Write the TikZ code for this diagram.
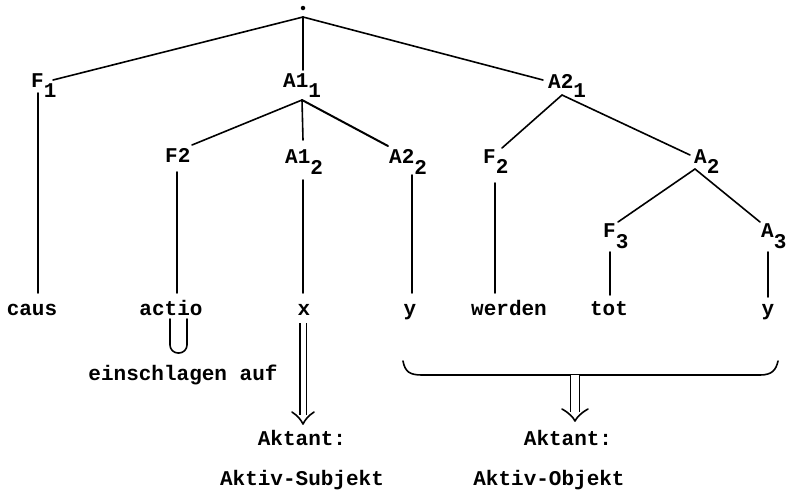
\documentclass[tikz,border=0pt]{standalone}
\usepackage{fontspec}
\newfontfamily\tw{Liberation Mono}
\newcommand\lowsub[2][10pt]{\raisebox{-#1}{#2}}
\tikzset{
  tfont/.style={font=\tw\bfseries\fontsize{21}{25}\selectfont},
  lab/.style={tfont, inner sep=0pt, anchor=base west},
  leaf/.style={tfont, inner sep=0pt, anchor=base},
  edge/.style={line width=1.6pt, line cap=round},
  shaft/.style={double, line width=1.5pt},
  vhead/.style={line width=1.6pt, line cap=round, line join=round},
}
\begin{document}
\begin{tikzpicture}[x=1pt,y=-1pt]
\useasboundingbox (0,0) rectangle (792,493);
% root
\node[circle, fill, inner sep=0pt, minimum size=4.5pt] (dot) at (303,8) {};
\coordinate (r) at (303,17);
% level 1 labels
\node[lab] (F1) at (31,87) {F\lowsub{1}};
\node[lab] (A11) at (283,87) {A1\lowsub{1}};
\node[lab] (A21) at (548,88) {A2\lowsub[9pt]{1}};
% level 2 labels
\node[lab] (F2a) at (165,162) {F2};
\node[lab] (A12) at (285,163) {A1\lowsub[11pt]{2}};
\node[lab] (A22) at (389,163) {A2\lowsub[11pt]{2}};
\node[lab] (F2b) at (483,163) {F\lowsub{2}};
\node[lab] (A2) at (694,163) {A\lowsub{2}};
% level 3 labels
\node[lab] (F3) at (603,237) {F\lowsub[11pt]{3}};
\node[lab] (A3) at (761,237) {A\lowsub[11pt]{3}};
% leaves
\node[leaf] (caus) at (32,315) {caus};
\node[leaf] (actio) at (171,315) {actio};
\node[leaf] (x) at (304,315) {x};
\node[leaf] (y1) at (410,315) {y};
\node[leaf] (werden) at (509,315) {werden};
\node[leaf] (tot) at (609,315) {tot};
\node[leaf] (y2) at (768,315) {y};
\node[leaf] (einsch) at (183,380) {einschlagen auf};
\node[leaf] (akt1) at (302,445) {Aktant:};
\node[leaf] (subj) at (302,485) {Aktiv-Subjekt};
\node[leaf] (akt2) at (568,445) {Aktant:};
\node[leaf] (obj) at (549,485) {Aktiv-Objekt};
% connector end points
\coordinate (tF1) at (53,80);
\coordinate (tA11) at (303,70);
\coordinate (tA21) at (543,80);
\coordinate (j1) at (302,100);
\coordinate (tF2a) at (192,145);
\coordinate (tA12) at (303,140);
\coordinate (tA22) at (388,146);
\coordinate (j2) at (562,95);
\coordinate (tF2b) at (502,148);
\coordinate (tA2) at (690,155);
\coordinate (j3) at (695,169);
\coordinate (tF3) at (618,222);
\coordinate (tA3) at (760,222);
% vertical ends
\coordinate (bF1) at (38,93);   \coordinate (lcaus) at (38,293);
\coordinate (bF2a) at (177,172); \coordinate (lactio) at (177,293);
\coordinate (bA12) at (303,180); \coordinate (lx) at (303,293);
\coordinate (bA22) at (412,175); \coordinate (ly1) at (412,293);
\coordinate (bF2b) at (495,183); \coordinate (lwerden) at (495,293);
\coordinate (bF3) at (610,252); \coordinate (ltot) at (610,295);
\coordinate (bA3) at (768,252); \coordinate (ly2) at (768,297);
% tree edges
\draw[edge] (r) -- (tF1);
\draw[edge] (r) -- (tA11);
\draw[edge] (r) -- (tA21);
\draw[edge] (j1) -- (tF2a);
\draw[edge] (j1) -- (tA12);
\draw[edge, line width=2pt] (j1) -- (tA22);
\draw[edge] (j2) -- (tF2b);
\draw[edge] (j2) -- (tA2);
\draw[edge] (j3) -- (tF3);
\draw[edge] (j3) -- (tA3);
% verticals
\draw[edge] (bF1) -- (lcaus);
\draw[edge] (bF2a) -- (lactio);
\draw[edge] (bA12) -- (lx);
\draw[edge] (bA22) -- (ly1);
\draw[edge] (bF2b) -- (lwerden);
\draw[edge] (bF3) -- (ltot);
\draw[edge] (bA3) -- (ly2);
% U under actio
\draw[edge, rounded corners=8pt] (170,319) -- (170,353) -- (187,353) -- (187,319);
% brace
\coordinate (bl) at (403,361);
\coordinate (br) at (778,361);
\coordinate (bm) at (575,375);
\draw[edge] (bl) .. controls (405,372) and (410,375) .. (422,375) -- (760,375) .. controls (772,375) and (776,370) .. (br);
% double arrow under x
\coordinate (xa) at (303,323);
\coordinate (xs) at (303,415);
\coordinate (xt) at (303,424);
\draw[shaft, double distance=5pt] (xa) -- (xs);
\draw[vhead] ([xshift=-11pt,yshift=12pt]xt) .. controls ([xshift=-5pt,yshift=8pt]xt) and ([xshift=-2pt,yshift=4pt]xt) .. (xt)
  .. controls ([xshift=2pt,yshift=4pt]xt) and ([xshift=5pt,yshift=8pt]xt) .. ([xshift=11pt,yshift=12pt]xt);
% double arrow under brace
\coordinate (bs) at (575,412);
\coordinate (bt) at (575,421);
\draw[shaft, double distance=7.5pt] (bm) -- (bs);
\draw[vhead] ([xshift=-13pt,yshift=12pt]bt) .. controls ([xshift=-6pt,yshift=8pt]bt) and ([xshift=-2pt,yshift=4pt]bt) .. (bt)
  .. controls ([xshift=2pt,yshift=4pt]bt) and ([xshift=6pt,yshift=8pt]bt) .. ([xshift=13pt,yshift=12pt]bt);
\end{tikzpicture}
\end{document}
